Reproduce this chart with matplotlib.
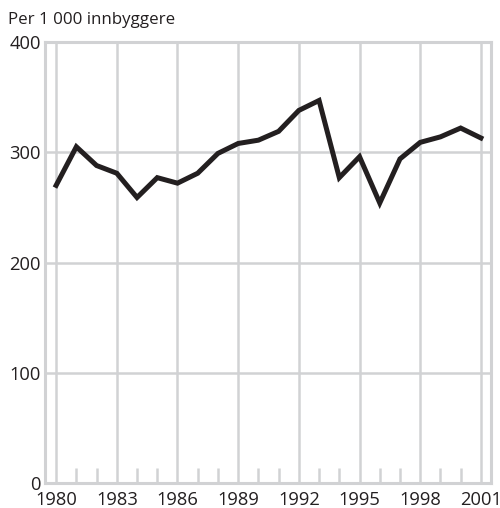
import matplotlib
matplotlib.use("Agg")
import matplotlib.pyplot as plt

years = list(range(1980, 2002))
values = [270, 305, 288, 281, 259, 277, 272, 281, 299, 308, 311, 319,
          338, 347, 277, 296, 254, 294, 309, 314, 322, 313]
major_years = [1980, 1983, 1986, 1989, 1992, 1995, 1998, 2001]
y_ticks = [0, 100, 200, 300, 400]

plt.rcParams['font.family'] = ['Open Sans', 'DejaVu Sans']
grey = '#d1d2d4'

fig = plt.figure(figsize=(5, 5.08), dpi=100)
ax = fig.add_axes([0.09, 0.0492, 0.892, 0.868])

ax.plot(years, values, color='#231f20', lw=3.6, solid_joinstyle='miter', zorder=3)

ax.set_xlim(1979.45, 2001.5)
ax.set_ylim(0, 400)
ax.set_xticks(major_years)
ax.set_xticks(years, minor=True)
ax.set_yticks(y_ticks)
ax.grid(True, which='major', color=grey, lw=1.8)
for s in ax.spines.values():
    s.set_color(grey)
    s.set_linewidth(2.2)
ax.tick_params(which='major', length=0, labelsize=13.2, colors='#231f20')
ax.tick_params(which='minor', direction='in', length=11, width=1.8, color=grey,
               labelbottom=False)
ax.tick_params(axis='x', which='major', pad=5.5)
ax.tick_params(axis='y', which='major', pad=3)
ax.tick_params(axis='y', which='minor', length=0)
for lbl in ax.get_yticklabels():
    lbl.set_verticalalignment('center_baseline')

fig.text(0.016, 0.953, 'Per 1 000 innbyggere', fontsize=12.2, color='#231f20')

fig.savefig('out.png', dpi=100)
